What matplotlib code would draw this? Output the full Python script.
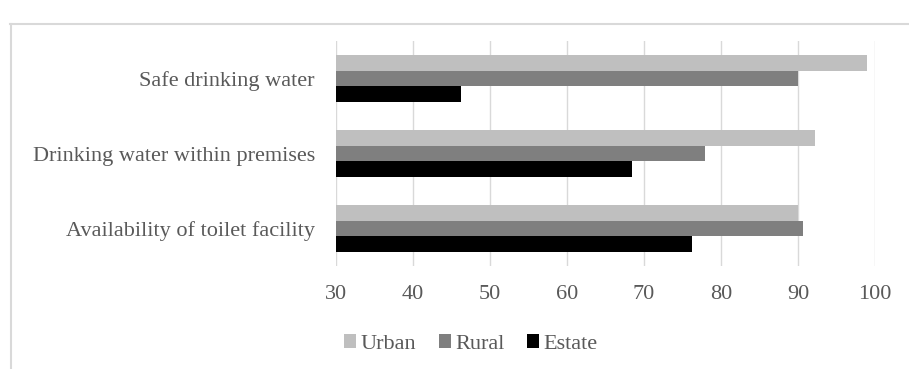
import numpy as np
import matplotlib
matplotlib.use("Agg")
import matplotlib.pyplot as plt
from matplotlib.patches import Patch
from matplotlib.lines import Line2D

# Household facilities by sector (%)
categories = ["Safe drinking water",
              "Drinking water within premises",
              "Availability of toilet facility"]
urban = [98.9, 92.2, 90.0]
rural = [90.0, 77.9, 90.7]
estate = [46.2, 68.5, 76.2]

series = ["Urban", "Rural", "Estate"]
colors = ["#bfbfbf", "#7f7f7f", "#000000"]
text_color = "#595959"

plt.rcParams["font.family"] = ["Liberation Serif", "DejaVu Serif"]

W, H = 909, 369
fig = plt.figure(figsize=(W / 100, H / 100), dpi=100)
ax = fig.add_axes([335.7 / W, 1 - 266 / H, (875 - 335.7) / W, (266 - 41) / H])

y = np.arange(len(categories))
h = 0.206
for k, (vals, c, name) in enumerate(zip([urban, rural, estate], colors, series)):
    ax.barh(y + (k - 1) * h, vals, height=h, color=c, label=name, zorder=2)

ax.set_xlim(30, 100)
ax.set_ylim(2.5, -0.5)
ax.set_xticks(range(30, 101, 10))
ax.set_yticks(y)
ax.set_yticklabels(categories)
ax.tick_params(axis="both", length=0, labelsize=16, colors=text_color)
ax.tick_params(axis="x", pad=14)
ax.tick_params(axis="y", pad=15)
ax.grid(axis="x", color="#d9d9d9", linewidth=1.0, zorder=0)
for s in ax.spines.values():
    s.set_visible(False)

# legend below the axis
handles = [Patch(facecolor=c, edgecolor="none", label=n) for c, n in zip(colors, series)]
fig.legend(handles=handles, loc="center left", bbox_to_anchor=(344 / W, 1 - 344 / H),
           ncol=3, frameon=False, fontsize=16, labelcolor=text_color,
           handlelength=0.55, handleheight=0.55, handletextpad=0.2,
           columnspacing=1.0, borderpad=0, borderaxespad=0)

# light outer frame
fig.add_artist(Line2D([10 / W, 1], [1 - 24 / H, 1 - 24 / H], color="#d9d9d9", lw=1.5))
fig.add_artist(Line2D([11 / W, 11 / W], [0, 1 - 24 / H], color="#d9d9d9", lw=1.5))

fig.savefig("out.png", dpi=100)
